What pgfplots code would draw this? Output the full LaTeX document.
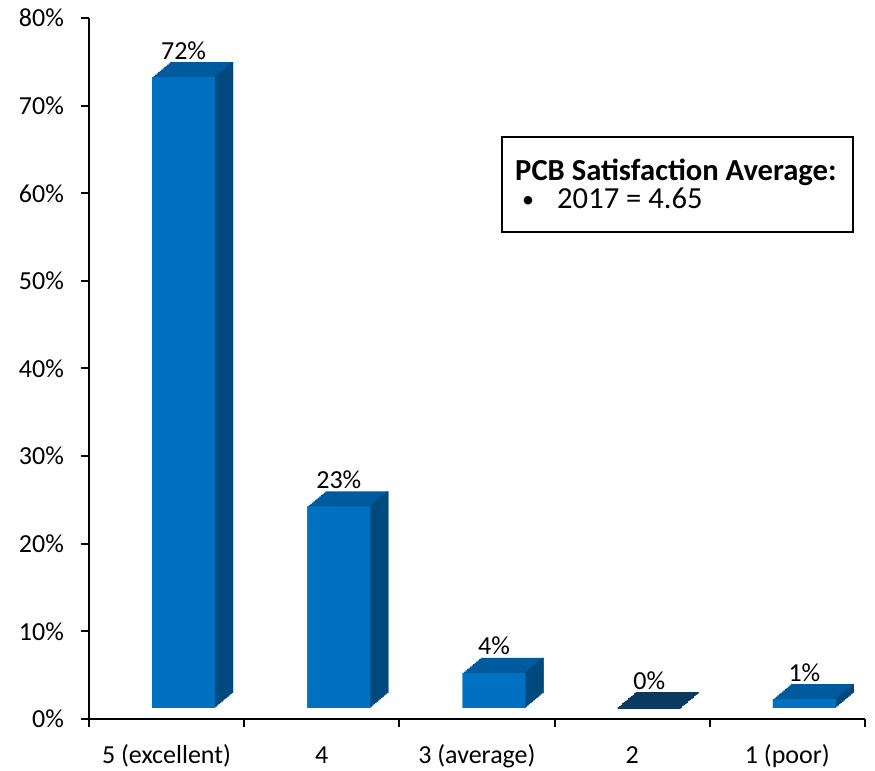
\documentclass[border=0pt]{standalone}
\usepackage{pgfplots}
\pgfplotsset{compat=1.18}
\usepackage{pgfplotstable}
\usepackage{fontspec}
\setmainfont{Carlito}

\definecolor{barfront}{HTML}{0070C0}
\definecolor{bartop}{HTML}{005A9E}
\definecolor{barside}{HTML}{00497F}
\definecolor{barzero}{HTML}{0A3A60}

% share of responses, in percent
\pgfplotstableread{
x y
0 72
1 23
2 4
3 0
4 1
}\ratings

\begin{document}
\begin{tikzpicture}
\begin{axis}[
    width=388pt, height=350.5pt, scale only axis,
    xmin=-0.5, xmax=4.5, ymin=0, ymax=80,
    axis x line*=bottom, axis y line*=left,
    axis line style={line width=1pt, -},
    tick style={line width=1pt, black},
    tick align=outside, major tick length=4pt,
    xtick={-0.5,0.5,...,4.5},
    xticklabels={5 (excellent),4,3 (average),2,1 (poor),{}},
    typeset ticklabels with strut,
    xticklabel style={xshift=38.75pt, yshift=-4pt},
    ytick={0,10,...,80},
    yticklabel={\pgfmathprintnumber{\tick}\%},
    yticklabel style={xshift=-5pt},
    ticklabel style={font=\fontsize{13}{15}\selectfont},
    /pgf/number format/assume math mode=true,
    clip=false,
]
% top face: the bar swept back in small steps
\pgfplotsinvokeforeach{12,11,...,0}{
  \addplot[ybar, bar width=31.5pt, bar shift=8.5pt, fill=bartop, draw=none,
    xshift=#1*0.75pt, yshift=5.5pt+#1*0.625pt]
    table[x=x,y=y]{\ratings};
}
% the empty bar: only its floor shows
\pgfplotsinvokeforeach{12,11,...,0}{
  \addplot[ybar, bar width=31.5pt, bar shift=8.5pt, draw=barzero, line width=0.8pt,
    restrict y to domain=-1:0.5,
    xshift=#1*0.75pt, yshift=5.5pt+#1*0.625pt]
    table[x=x,y=y]{\ratings};
}
% side face: the right edge swept back
\pgfplotsinvokeforeach{12,11,...,0}{
  \addplot[ybar, bar width=0.9pt, bar shift=23.8pt, fill=barside, draw=none,
    xshift=#1*0.75pt, yshift=5.5pt+#1*0.625pt]
    table[x=x,y=y]{\ratings};
}
% front face
\addplot[ybar, bar width=31.5pt, bar shift=8.5pt, fill=barfront, draw=none,
  yshift=5.5pt] table[x=x,y=y]{\ratings};
% value labels
\addplot[draw=none, mark=none,
  nodes near coords={\pgfmathprintnumber{\pgfplotspointmeta}\%},
  nodes near coords style={anchor=base, inner sep=0pt, xshift=8.5pt,
    yshift=14.5pt, font=\fontsize{13}{15}\selectfont}]
  table[x=x,y=y]{\ratings};

\draw[line width=1pt] (rel axis cs:0.532,0.830) rectangle (rel axis cs:0.985,0.695);
\node[anchor=base west, inner sep=0pt, font=\fontsize{15.3}{18}\selectfont\bfseries]
  at ([shift={(6.5pt,-21.5pt)}]rel axis cs:0.532,0.830) {PCB Satisfaction Average:};
\node[anchor=base west, inner sep=0pt, font=\fontsize{12}{14}\selectfont]
  at ([shift={(10pt,-35pt)}]rel axis cs:0.532,0.830) {•};
\node[anchor=base west, inner sep=0pt, font=\fontsize{15.3}{18}\selectfont]
  at ([shift={(27.5pt,-35.5pt)}]rel axis cs:0.532,0.830) {2017 = 4.65};

\coordinate (ll) at (rel axis cs:0,0);
\coordinate (ur) at (rel axis cs:1,1);
\end{axis}
\pgfresetboundingbox
\path[use as bounding box] ([shift={(-44.5pt,-26pt)}]ll) rectangle ([shift={(5pt,9pt)}]ur);
\end{tikzpicture}
\end{document}
